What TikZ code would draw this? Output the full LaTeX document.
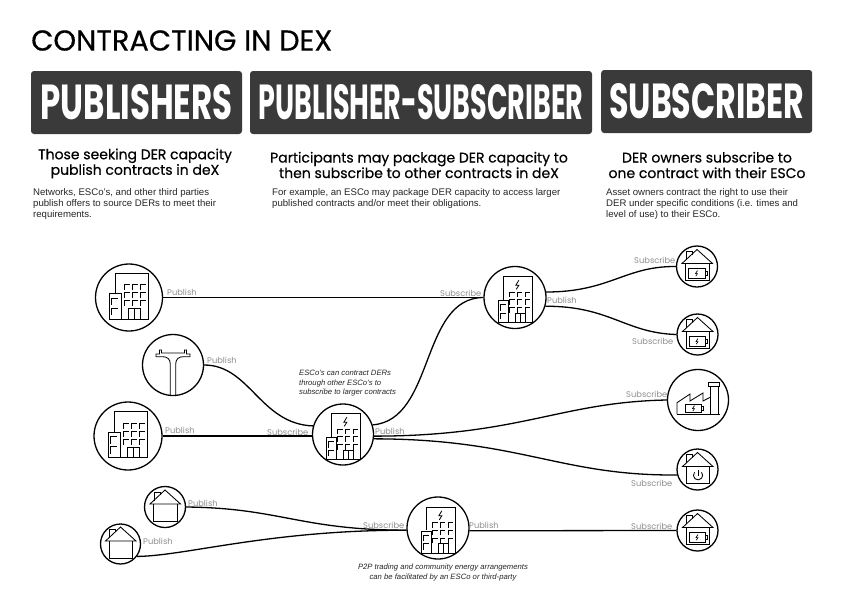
\documentclass[tikz,border=0pt]{standalone}
\usepackage{graphicx}
\usepackage{fontspec}
\setmainfont{Liberation Sans}
\newfontfamily\futura{Poppins}
\newfontfamily\futmed[FakeBold=0.4]{Poppins}
\definecolor{hdr}{HTML}{3A3A3A}
\definecolor{lbl}{HTML}{8E8E8E}
\tikzset{
  x=1pt,y=-1pt,
  ln/.style={line width=1.3pt,black},
  ic/.style={line width=0.85pt,black,line join=miter},
  disc/.style={circle,draw,line width=1.3pt,fill=white,inner sep=0pt,minimum size=#1},
  headbox/.style={fill=hdr,rounded corners=3pt,inner sep=0pt,text=white,minimum height=63pt},
  subhead/.style={font=\futmed\fontsize{14}{15.5}\selectfont,align=center,inner sep=0pt,text=black},
  bodytext/.style={font=\fontsize{9.6}{11.1}\selectfont,align=left,anchor=north west,inner sep=0pt,text=black!85},
  notetext/.style={font=\itshape\fontsize{7.7}{9.5}\selectfont,inner sep=0pt,text=black!85},
  lab/.style={font=\futura\fontsize{8.3}{9}\selectfont,text=lbl,inner sep=0pt,anchor=west},
  bolt/.pic={\draw[line width=0.8pt] (1.5,-4.5) -- (-1.5,0.5) -- (1.5,0.5) -- (-1,4.5);},
  sbolt/.pic={\draw[line width=0.65pt] (1,-2.8) -- (-1,0.3) -- (1,0.3) -- (-0.7,2.8);},
  officebase/.pic={
    \draw[ic] (-14,-3.7) -- (-14,-24.3) -- (19.7,-24.3) -- (19.7,21.7) -- (-20,21.7) -- (-20,-3.7) -- (-7.7,-3.7) -- (-7.7,21.7);
    \draw[ic] (-0.3,21.7) -- (-0.3,11) -- (11.3,11) -- (11.3,21.7) (5.5,11) -- (5.5,21.7);
    \foreach \cx in {-5,3,11}{\foreach \cy in {-12.7,-5,3}{
      \draw[ic] (\cx,\cy+5.5) -- (\cx,\cy) -- (\cx+5.5,\cy);}}
    \foreach \cy in {0.7,10.7}{\draw[ic] (-17.5,\cy+7) -- (-17.5,\cy) -- (-11,\cy);}
  },
  officebolt/.pic={
    \draw[ic] (-12,2) -- (-12,-21) -- (17.3,-21) -- (17.3,25) -- (-16.7,25) -- (-16.7,3) -- (-6.7,3) -- (-6.7,25);
    \draw[ic] (0,25) -- (0,15.7) -- (10,15.7) -- (10,25) (5,15.7) -- (5,25);
    \foreach \cx in {-5.3,2.3,10}{\foreach \cy in {-5.3,2.3,10}{
      \draw[ic] (\cx,\cy+5) -- (\cx,\cy) -- (\cx+5,\cy);}}
    \foreach \cy in {7,15.5}{\draw[ic] (-15,\cy+6) -- (-15,\cy) -- (-9.5,\cy);}
    \pic at (2.3,-12.7) {bolt};
  },
  houseshell/.pic={
    \draw[ic] (-15,-3) -- (0,-17) -- (15.5,-3) -- cycle;
    \draw[ic] (-11,-6.5) -- (-11,-15) -- (-5,-15) -- (-5,-12);
    \draw[ic] (-11.5,-3) -- (-11.5,14) -- (12,14) -- (12,-3);
  },
  batteryhouse/.pic={
    \pic {houseshell};
    \draw[ic] (-8.5,2) rectangle (8,11.5);
    \draw[ic] (8,4.5) -- (10,4.5) -- (10,9) -- (8,9);
    \pic at (-0.5,6.8) {sbolt};
  },
  powerhouse/.pic={
    \pic {houseshell};
    \draw[ic] (-3,2.8) arc[start angle=140,end angle=400,x radius=4.6,y radius=-4.6];
    \draw[ic] (0.5,0.5) -- (0.5,6.5);
  },
  factoryicon/.pic={
    \draw[ic] (-21,14.3) -- (-21,2.7) -- (-8,-6) -- (-8,1) -- (5,-7) -- (5,1) -- (12.7,-3);
    \draw[ic] (-21,14.3) -- (21.5,14.3);
    \draw[ic] (12.7,14.3) -- (12.7,-14) (20,14.3) -- (20,-14);
    \draw[ic] (10.3,-17.3) rectangle (21.7,-14);
    \draw[ic] (-12.3,4.3) rectangle (3.3,12.3);
    \draw[ic] (3.3,6.5) -- (5,6.5) -- (5,10) -- (3.3,10);
    \pic at (-4.5,8.3) {sbolt};
  },
  poleicon/.pic={
    \draw[ic] (-2.7,30) -- (-2.7,-1) .. controls (-2.7,-6) and (-6,-8.3) .. (-10,-8.3) -- (-17,-8.3) -- (-17,-11) -- (-13.5,-11) -- (-13.5,-15) -- (-11.5,-15) -- (-11.5,-12) -- (11.5,-12) -- (11.5,-15) -- (13.5,-15) -- (13.5,-11) -- (17,-11) -- (17,-8.3) -- (10,-8.3) .. controls (6,-8.3) and (2.7,-6) .. (2.7,-1) -- (2.7,30);
  },
}
\begin{document}
\begin{tikzpicture}
\useasboundingbox[fill=white] (0,0) rectangle (841,595);

\node[inner sep=0pt,anchor=west] (title) at (31,40.5) {\resizebox{301pt}{!}{\futmed CONTRACTING IN DEX}};

\node[headbox,minimum width=211pt] (hpub) at (136.5,102.5) {\resizebox{192pt}{35pt}{\futura\bfseries PUBLISHERS}};
\node[headbox,minimum width=342pt] (hps) at (421,102.5) {\resizebox{325pt}{35pt}{\futura\bfseries PUBLISHER-SUBSCRIBER}};
\node[headbox,minimum width=211pt] (hsub) at (706.7,101.5) {\resizebox{195pt}{35pt}{\futura\bfseries SUBSCRIBER}};

\node[subhead] (s1) at (135,163.5) {Those seeking DER capacity\\publish contracts in deX};
\node[subhead] (s2) at (419,165) {Participants may package DER capacity to\\then subscribe to other contracts in deX};
\node[subhead] (s3) at (707,165) {DER owners subscribe to\\one contract with their ESCo};

\node[bodytext] (b1) at (33,188.3) {Networks, ESCo's, and other third parties\\publish offers to source DERs to meet their\\requirements.};
\node[bodytext] (b2) at (272,188.3) {For example, an ESCo may package DER capacity to access larger\\published contracts and/or meet their obligations.};
\node[bodytext] (b3) at (606,188.3) {Asset owners contract the right to use their\\DER under specific conditions (i.e. times and\\level of use) to their ESCo.};

% circles
\node[disc=67pt] (ntop) at (129,297.5) {};
\node[disc=61pt] (pole) at (173,365) {};
\node[disc=68pt] (nmid) at (128,436) {};
\node[disc=61pt] (emid) at (343,434.5) {};
\node[disc=62pt] (etop) at (515,297.5) {};
\node[disc=41pt] (h1) at (697,266.5) {};
\node[disc=41pt] (h2) at (697.5,334.5) {};
\node[disc=61pt] (fac) at (698,400) {};
\node[disc=41pt] (h3) at (697.5,469.5) {};
\node[disc=41pt] (h4) at (697.5,530.5) {};
\node[disc=41pt] (p1) at (165,507) {};
\node[disc=40pt] (p2) at (120.5,544) {};
\node[disc=62pt] (ebot) at (438,528) {};

% connectors
\draw[ln] (ntop) -- (etop.west |- ntop);
\draw[ln] (pole.east) .. controls (250,365) and (260,424) .. (emid.164);
\draw[ln] (nmid.east) -- (emid.west |- nmid);
\draw[ln] (emid.18) .. controls (435,420) and (420,298) .. (etop.west);
\draw[ln] (emid.-3) .. controls (520,436) and (560,402) .. (fac.west);
\draw[ln] (emid.-8) .. controls (520,439) and (560,476) .. (h3.-165);
\draw[ln] (etop.10) .. controls (610,292) and (625,266) .. (h1.west);
\draw[ln] (etop.-16) .. controls (610,306) and (625,333) .. (h2.west);
\draw[ln] (p1.east) .. controls (280,508) and (300,530) .. (ebot.184);
\draw[ln] (p2.-37) .. controls (185,556) and (270,530) .. (ebot.184);
\draw[ln] (ebot.-5) -- (h4.west);

% icons
\pic at (129,297.5) {officebase};
\pic at (128,436) {officebase};
\pic at (343,434.5) {officebolt};
\pic at (515,297.5) {officebolt};
\pic at (438,528) {officebolt};
\pic at (173,365) {poleicon};
\pic at (697,266.5) {batteryhouse};
\pic at (697.5,334.5) {batteryhouse};
\pic at (697.5,530.5) {batteryhouse};
\pic at (697.5,469.5) {powerhouse};
\pic at (165,507) {houseshell};
\pic at (120.5,544) {houseshell};
\pic at (698,400) {factoryicon};

% labels
\node[lab] (l1) at (167,292.7) {Publish};
\node[lab] (l2) at (440,293) {Subscribe};
\node[lab] (l3) at (207,360.5) {Publish};
\node[lab] (l4) at (165,430.5) {Publish};
\node[lab] (l5) at (267,432) {Subscribe};
\node[lab] (l6) at (375,431) {Publish};
\node[lab] (l7) at (547,300) {Publish};
\node[lab] (l8) at (634,260) {Subscribe};
\node[lab] (l9) at (632,341) {Subscribe};
\node[lab] (l10) at (626,394) {Subscribe};
\node[lab] (l11) at (631,483) {Subscribe};
\node[lab] (l12) at (631,526) {Subscribe};
\node[lab] (l13) at (188,503) {Publish};
\node[lab] (l14) at (143,541.5) {Publish};
\node[lab] (l15) at (363,525) {Subscribe};
\node[lab] (l16) at (469,525) {Publish};

\node[notetext,align=left,anchor=north west] (n1) at (299,370) {ESCo's can contract DERs\\through other ESCo's to\\subscribe to larger contracts};
\node[notetext,align=center,anchor=north] (n2) at (443,564) {P2P trading and community energy arrangements\\can be facilitated by an ESCo or third-party};
\end{tikzpicture}
\end{document}
